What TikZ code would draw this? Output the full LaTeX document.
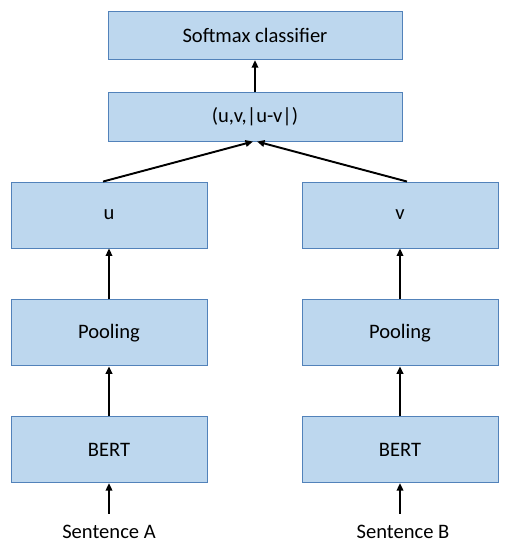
\documentclass[tikz,border=0pt]{standalone}
\usepackage{fontspec}
\setmainfont{Carlito}
\usepackage{xcolor}
\usetikzlibrary{arrows.meta, positioning}

\definecolor{boxfill}{HTML}{BDD7EE}
\definecolor{boxedge}{HTML}{5282BA}

\begin{document}
\begin{tikzpicture}[
    x=0.02cm, y=-0.02cm,
    blk/.style={draw=boxedge, line width=0.5pt, fill=boxfill, minimum width=3.92cm,
                minimum height=1.32cm, inner sep=0pt, font=\fontsize{11.7}{13}\selectfont},
    wide/.style={blk, minimum width=5.88cm, minimum height=0.97cm},
    sent/.style={inner sep=0pt, font=\fontsize{11.7}{13}\selectfont},
    arr/.style={-{Triangle[length=1.5mm, width=1.3mm]}, line width=1.1pt},
    node distance=1cm
]
\useasboundingbox (0,0) rectangle (510,550);

\node[wide] (soft) at (255,35.5) {Softmax classifier};
\node[wide, below=0.64cm of soft] (uv) {(u,v,|u-v|)};

\node[blk] (u) at (109,215) {u};
\node[blk, below=1.02cm of u] (poolA) {Pooling};
\node[blk, below=1cm of poolA] (bertA) {BERT};
\node[sent] (sentA) at (109,532) {Sentence A};

\node[blk] (v) at (400,215) {v};
\node[blk, below=1.02cm of v] (poolB) {Pooling};
\node[blk, below=1cm of poolB] (bertB) {BERT};
\node[sent] (sentB) at (403,532) {Sentence B};

\draw[arr] ([yshift=0.22cm]sentA.north) -- (bertA);
\draw[arr] (bertA) -- (poolA);
\draw[arr] (poolA) -- (u);
\draw[arr] ([yshift=0.22cm]sentB.north -| bertB) -- (bertB);
\draw[arr] (bertB) -- (poolB);
\draw[arr] (poolB) -- (v);

\draw[arr] ([xshift=-0.12cm]u.north) -- ([xshift=-0.04cm]uv.south);
\draw[arr] ([xshift=0.14cm]v.north) -- ([xshift=0.04cm]uv.south);
\draw[arr] (uv) -- (soft);
\end{tikzpicture}
\end{document}
